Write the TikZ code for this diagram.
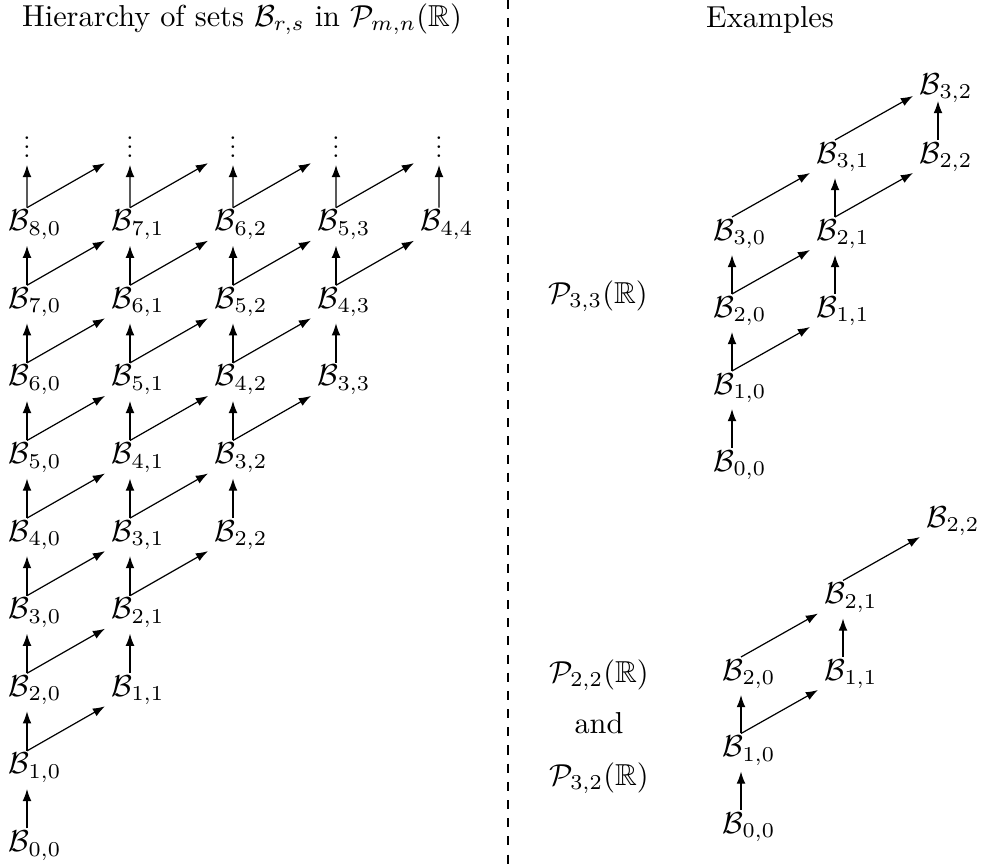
\documentclass[tikz,border=0pt]{standalone}
\usepackage{amsmath,amssymb}
\usetikzlibrary{arrows.meta}
\begin{document}
\begin{tikzpicture}[x=0.33pt,y=-0.33pt,
  bn/.style={inner sep=0pt,anchor=base west},
  lbl/.style={inner sep=0pt,anchor=base},
  ar/.style={-{Latex[length=4pt,width=2.9pt]},line width=0.4pt},
  tp/.style={shift={(6.27pt,7.6pt)}},
  vb/.style={shift={(6.27pt,-4.95pt)}},
  db/.style={shift={(-1.98pt,-3.3pt)}},
  vbhi/.style={shift={(6.27pt,-2.31pt)}},
  dbhi/.style={shift={(-1.98pt,-0.66pt)}},
  dotsn/.style={inner sep=0pt,anchor=south},
  sep/.style={dashed,line width=0.5pt}]
\useasboundingbox (0,0) rectangle (981,864);

% titles
\node[lbl] (title) at (242,26) {Hierarchy of sets $\mathcal{B}_{r,s}$ in $\mathcal{P}_{m,n}(\mathbb{R})$};
\node[lbl] (examples) at (770,27) {Examples};

% separator
\coordinate (septop) at (508,0);
\coordinate (sepbot) at (508,864);
\draw[sep] (septop) -- (sepbot);

% ---------- left panel: nodes ----------
\foreach \row in {0,...,8}{
  \pgfmathtruncatemacro\smax{\row/2}
  \foreach \sv in {0,...,\smax}{
    \pgfmathtruncatemacro\rv{\row-\sv}
    \node[bn] (L\rv\sv) at ({27+103*\sv-19},{841.5-77.6*\row+10}) {$\mathcal{B}_{\rv,\sv}$};
  }
}
% dots on top
\foreach \sv in {0,...,4}{
  \node[dotsn] (T\sv) at ({27+103*\sv},158) {\footnotesize\vbox{\baselineskip=3pt\lineskiplimit=-10pt\hbox{.}\hbox{.}\hbox{.}}};
}
% ---------- left panel: arrows ----------
\foreach \row in {0,...,7}{
  \pgfmathtruncatemacro\smax{\row/2}
  \foreach \sv in {0,...,\smax}{
    \pgfmathtruncatemacro\rv{\row-\sv}
    \pgfmathtruncatemacro\rn{\rv+1}
    \pgfmathtruncatemacro\sn{\sv+1}
    \draw[ar] ([tp]L\rv\sv.base west) -- ([vb]L\rn\sv.base west);
    \ifnum\sv<\rv\relax
      \draw[ar] ([tp]L\rv\sv.base west) -- ([db]L\rv\sn.base west);
    \fi
  }
}
% top row
\foreach \sv in {0,...,4}{
  \pgfmathtruncatemacro\rv{8-\sv}
  \pgfmathtruncatemacro\sn{\sv+1}
  \draw[ar] ([tp]L\rv\sv.base west) -- ([yshift=-2.3pt]T\sv.south);
  \ifnum\sv<\rv\relax
    \coordinate (F\sv) at ({27+103*\sn-19},{841.5-77.6*9+10});
    \draw[ar] ([tp]L\rv\sv.base west) -- ([db]F\sv);
  \fi
}

% ---------- upper example ----------
\node[lbl] (P33) at (598,303) {$\mathcal{P}_{3,3}(\mathbb{R})$};
\node[bn] (U00) at (713,471) {$\mathcal{B}_{0,0}$};
\node[bn] (U10) at (713,394) {$\mathcal{B}_{1,0}$};
\node[bn] (U20) at (713,317) {$\mathcal{B}_{2,0}$};
\node[bn] (U30) at (713,240) {$\mathcal{B}_{3,0}$};
\node[bn] (U11) at (816,317) {$\mathcal{B}_{1,1}$};
\node[bn] (U21) at (816,240) {$\mathcal{B}_{2,1}$};
\node[bn] (U31) at (816,163) {$\mathcal{B}_{3,1}$};
\node[bn] (U22) at (919,163) {$\mathcal{B}_{2,2}$};
\node[bn] (U32) at (919,94) {$\mathcal{B}_{3,2}$};
\draw[ar] ([tp]U00.base west) -- ([vb]U10.base west);
\draw[ar] ([tp]U10.base west) -- ([vb]U20.base west);
\draw[ar] ([tp]U10.base west) -- ([db]U11.base west);
\draw[ar] ([tp]U20.base west) -- ([vb]U30.base west);
\draw[ar] ([tp]U20.base west) -- ([db]U21.base west);
\draw[ar] ([tp]U11.base west) -- ([vb]U21.base west);
\draw[ar] ([tp]U30.base west) -- ([db]U31.base west);
\draw[ar] ([tp]U21.base west) -- ([vb]U31.base west);
\draw[ar] ([tp]U21.base west) -- ([db]U22.base west);
\draw[ar] ([tp]U31.base west) -- ([dbhi]U32.base west);
\draw[ar] ([tp]U22.base west) -- ([vbhi]U32.base west);

% ---------- lower example ----------
\node[lbl] (P22) at (599,682) {$\mathcal{P}_{2,2}(\mathbb{R})$};
\node[lbl] (and) at (599,733) {and};
\node[lbl] (P32) at (599,785) {$\mathcal{P}_{3,2}(\mathbb{R})$};
\node[bn] (D00) at (722,833) {$\mathcal{B}_{0,0}$};
\node[bn] (D10) at (722,756.5) {$\mathcal{B}_{1,0}$};
\node[bn] (D20) at (722,680) {$\mathcal{B}_{2,0}$};
\node[bn] (D11) at (824,680) {$\mathcal{B}_{1,1}$};
\node[bn] (D21) at (824,603.5) {$\mathcal{B}_{2,1}$};
\node[bn] (D22) at (926,527) {$\mathcal{B}_{2,2}$};
\draw[ar] ([tp]D00.base west) -- ([vb]D10.base west);
\draw[ar] ([tp]D10.base west) -- ([vb]D20.base west);
\draw[ar] ([tp]D10.base west) -- ([db]D11.base west);
\draw[ar] ([tp]D20.base west) -- ([db]D21.base west);
\draw[ar] ([tp]D11.base west) -- ([vb]D21.base west);
\draw[ar] ([tp]D21.base west) -- ([db]D22.base west);
\end{tikzpicture}
\end{document}
